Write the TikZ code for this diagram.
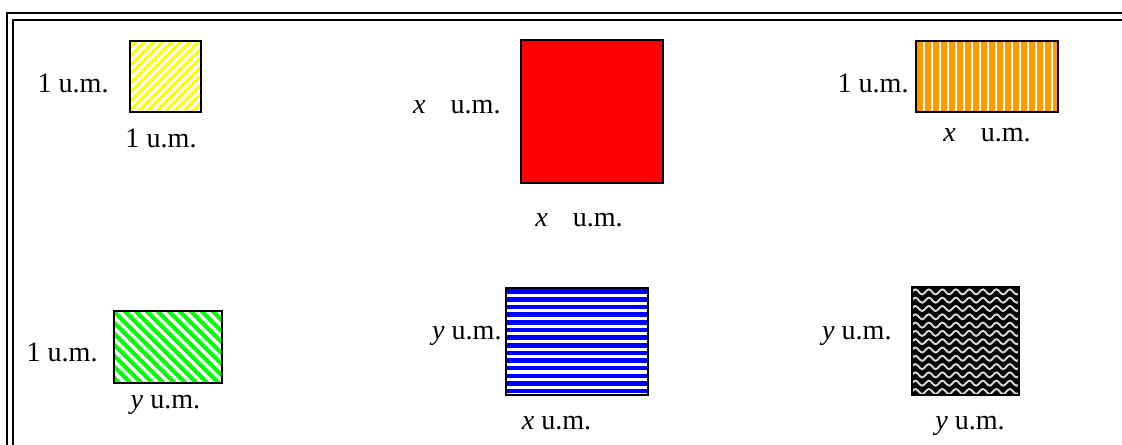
\documentclass[tikz,border=0pt]{standalone}
\usepackage{fontspec}
\setmainfont{Liberation Serif}
\usepackage{xcolor}
\definecolor{sunyellow}{RGB}{255,255,0}
\definecolor{boxred}{RGB}{255,0,0}
\definecolor{boxorange}{RGB}{255,153,0}
\definecolor{boxgreen}{RGB}{0,255,0}
\definecolor{boxblue}{RGB}{0,0,255}
\definecolor{wavegray}{RGB}{215,215,215}
\usepackage{tikz}
\usetikzlibrary{positioning}
\tikzset{
  %% white stripes drawn inside a tile: #1 = period, #2 = stripe width
  stripesh/.style 2 args={path picture={
    \foreach \k in {0,...,30}
      \draw[white,line width=#2]
        ([yshift=\k*#1]path picture bounding box.south west) --
        ([yshift=\k*#1]path picture bounding box.south east);}},
  stripesv/.style 2 args={path picture={
    \foreach \k in {0,...,40}
      \draw[white,line width=#2]
        ([xshift=\k*#1]path picture bounding box.south west) --
        ([xshift=\k*#1]path picture bounding box.north west);}},
  stripesne/.style 2 args={path picture={
    \foreach \k in {0,...,40}
      \draw[white,line width=#2]
        ([xshift=\k*#1-3cm]path picture bounding box.south west) -- ++(3,3);}},
  stripesnw/.style 2 args={path picture={
    \foreach \k in {0,...,40}
      \draw[white,line width=#2]
        ([xshift=\k*#1]path picture bounding box.south west) -- ++(-3,3);}},
  wavy/.style={path picture={
    \foreach \k in {0,...,13}
      \draw[wavegray,line width=1.1pt]
        ([yshift=\k*0.166cm+0.07cm]path picture bounding box.south west)
        \foreach \j in {1,...,8}{
          sin ++(0.0675,0.05) cos ++(0.0675,-0.05)
          sin ++(0.0675,-0.05) cos ++(0.0675,0.05)};}},
}

\begin{document}
\begin{tikzpicture}[
  tile/.style={rectangle,draw=black,line width=1.2pt,inner sep=0pt},
  lbl/.style={font=\fontsize{16}{19}\selectfont,inner sep=0pt},
  frame/.style={line width=1.4pt},
]
  \useasboundingbox (0,0) rectangle (22.44,-8.9);

  %% double frame, cut off at the right and bottom edges
  \draw[frame] (0.14,-9.5) -- (0.14,-0.26) -- (23,-0.26);
  \draw[frame] (0.26,-9.5) -- (0.26,-0.40) -- (23,-0.40);

  %% top row
  \node[tile,fill=sunyellow,stripesne={0.18cm}{1.8pt},
        minimum width=1.42cm,minimum height=1.42cm]
        (Y) at (3.31,-1.53) {};
  \node[tile,fill=boxred,minimum width=2.84cm,minimum height=2.86cm]
        (R) at (11.84,-2.23) {};
  \node[tile,fill=boxorange,stripesv={0.16cm}{1.4pt},
        minimum width=2.84cm,minimum height=1.42cm]
        (O) at (19.74,-1.53) {};

  %% bottom row
  \node[tile,fill=boxgreen,stripesnw={0.22cm}{2pt},
        minimum width=2.16cm,minimum height=1.44cm]
        (G) at (3.36,-6.94) {};
  \node[tile,fill=boxblue,stripesh={0.153cm}{1.8pt},
        minimum width=2.84cm,minimum height=2.14cm]
        (B) at (11.54,-6.83) {};
  \node[tile,fill=black,wavy,
        minimum width=2.14cm,minimum height=2.16cm]
        (K) at (19.31,-6.82) {};

  %% side labels
  \node[lbl,anchor=base east](Yl) at ([xshift=-0.40cm,yshift=-0.32cm]Y.west) {1 u.m.};
  \node[lbl,anchor=base east](Rl) at ([xshift=-0.38cm,yshift=-0.05cm]R.west) {\textit{x}\hspace{0.5cm}u.m.};
  \node[lbl,anchor=base east](Ol) at ([xshift=-0.12cm,yshift=-0.32cm]O.west) {1 u.m.};
  \node[lbl,anchor=base east](Gl) at ([xshift=-0.30cm,yshift=-0.29cm]G.west) {1 u.m.};
  \node[lbl,anchor=base east](Bl) at ([xshift=-0.06cm,yshift=0.05cm]B.west) {\textit{y} u.m.};
  \node[lbl,anchor=base east](Kl) at ([xshift=-0.38cm,yshift=0.04cm]K.west) {\textit{y} u.m.};

  %% bottom labels
  \node[lbl,anchor=base](Yb) at ([xshift=-0.09cm,yshift=-0.68cm]Y.south) {1 u.m.};
  \node[lbl,anchor=base](Rb) at ([xshift=-0.26cm,yshift=-0.84cm]R.south) {\textit{x}\hspace{0.5cm}u.m.};
  \node[lbl,anchor=base](Ob) at ([xshift=0cm,yshift=-0.56cm]O.south) {\textit{x}\hspace{0.5cm}u.m.};
  \node[lbl,anchor=base](Gb) at ([xshift=-0.05cm,yshift=-0.48cm]G.south) {\textit{y} u.m.};
  \node[lbl,anchor=base](Bb) at ([xshift=-0.41cm,yshift=-0.66cm]B.south) {\textit{x} u.m.};
  \node[lbl,anchor=base](Kb) at ([xshift=0.09cm,yshift=-0.66cm]K.south) {\textit{y} u.m.};
\end{tikzpicture}
\end{document}
